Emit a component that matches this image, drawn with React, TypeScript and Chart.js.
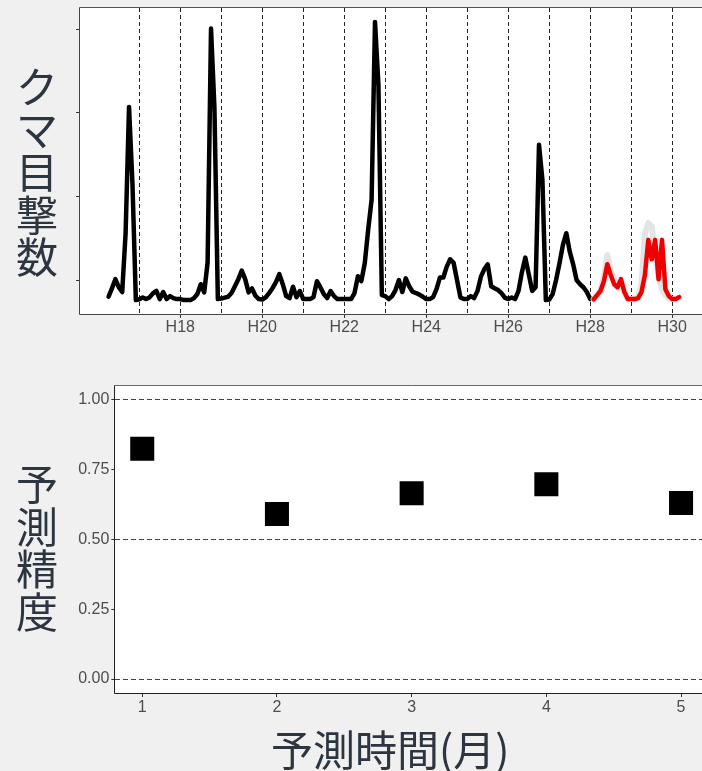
import { useEffect, useRef } from 'react';
import { Chart, registerables } from 'chart.js';

Chart.register(...registerables);

// Monthly bear sightings, starting H16 April (one value per month).
const firstMonth = 16 + 3 / 12;
const observed: number[] = [
  // H16 Apr–Dec
  2, 7, 12.5, 7.7, 4.8, 40, 115.5, 70, 0,
  // H17
  0.5, 1.6, 0.6, 1.6, 4, 5.5, 0.6, 4.8, 0.6, 2.4, 1.2, 0.6,
  // H18
  0.6, 0, 0, 0, 1.2, 3.6, 9.5, 4.6, 22.4, 162.3, 115, 0.6,
  // H19
  0.9, 1.5, 2, 4.2, 8.3, 12.5, 17.6, 12.5, 4.6, 7, 2.6, 0.6,
  // H20
  0.3, 1.6, 4.2, 7.1, 10.7, 15.5, 9.5, 2.4, 1.2, 8, 1.8, 5.4,
  // H21
  0.6, 0.6, 0.6, 1.8, 11.3, 7.7, 3.6, 1.2, 5.4, 2.4, 0.6, 0.6,
  // H22
  0.6, 0.6, 0.6, 4.2, 14.3, 11.3, 22, 42, 60, 166.3, 128.6, 3,
  // H23
  2.4, 0.6, 2.4, 6, 12, 4.8, 13, 8.3, 5, 4.2, 3.3, 2,
  // H24
  0.6, 0.6, 1.8, 6.5, 13.5, 13.5, 20, 24.4, 22.3, 12, 1.6, 0.6,
  // H25
  0.6, 2.4, 1.2, 5.4, 14, 18.5, 21.4, 8.3, 7.1, 6, 4.2, 1.5,
  // H26
  0.6, 1.6, 0.6, 5.5, 16.7, 25.4, 15.5, 5.5, 7.7, 92.9, 72, 0,
  // H27
  0.3, 3.6, 12, 22, 33, 40, 29, 21.4, 12, 9.5, 7.7, 4.8,
  // H28 Jan
  0.6,
];

// Forecast period, H28 Feb – H30 Mar: model output and recorded counts.
const predicted: number[] = [
  0.5, 3, 5.4, 11.3, 21.4, 15, 9.5, 7.7, 12.5, 4.8, 0.6,
  0.6, 0.6, 1.2, 4.8, 15, 36, 24.4, 36, 12.5, 36, 6.5, 2.4,
  0.6, 0.6, 1.8,
];
const recorded: number[] = [
  0.5, 3, 6, 14, 27, 17, 13, 7, 9, 4, 0.6,
  0.6, 0.6, 1.5, 9.5, 40, 46, 44, 27, 14, 6.5, 3, 1.2,
  0.6, 0.6, 1.5,
];

const yearLines = [17, 18, 19, 20, 21, 22, 23, 24, 25, 26, 27, 28, 29, 30];
const labelledYears = [18, 20, 22, 24, 26, 28, 30];
const countTicks = [12, 62, 112, 162];

// Forecast accuracy by lead time.
const leadMonths = [1, 2, 3, 4, 5];
const accuracy = [0.824, 0.591, 0.665, 0.697, 0.63];
const accuracyTicks = [0, 0.25, 0.5, 0.75, 1];
const accuracyGuides = [0, 0.5, 1];

const tickFont = { family: "'Liberation Sans', Arial, sans-serif", size: 16 };
const tickColor = '#4d4d4d';
const titleColor = '#2d3540';
const cjk = "'Noto Sans CJK JP', 'Noto Sans', sans-serif";

const monthX = (i: number) => firstMonth + i / 12;

function expand(lo: number, hi: number) {
  const pad = (hi - lo) * 0.05;
  return { min: lo - pad, max: hi + pad };
}

// White panel behind the data, framed after drawing.
const panelPlugin = {
  id: 'panel',
  beforeDraw(chart: any) {
    const { ctx, chartArea: a } = chart;
    ctx.save();
    ctx.fillStyle = '#ffffff';
    ctx.fillRect(a.left, a.top, a.right - a.left, a.bottom - a.top);
    ctx.restore();
  },
  afterDraw(chart: any, _args: any, opts: any) {
    const { ctx, chartArea: a } = chart;
    const l = Math.round(a.left) - 0.5;
    const t = Math.round(a.top) - 0.5;
    const r = Math.round(a.right) + 0.5;
    const b = Math.round(a.bottom) + 0.5;
    ctx.save();
    ctx.lineWidth = 1;
    ctx.strokeStyle = opts.frame;
    ctx.beginPath();
    ctx.moveTo(l, t);
    ctx.lineTo(r, t);
    ctx.lineTo(r, b);
    ctx.stroke();
    ctx.strokeStyle = opts.axis;
    ctx.beginPath();
    ctx.moveTo(l, t);
    ctx.lineTo(l, b);
    ctx.lineTo(r, b);
    ctx.stroke();
    ctx.restore();
  },
};

function SightingsChart() {
  const ref = useRef<HTMLCanvasElement>(null);
  useEffect(() => {
    const n = observed.length;
    const obs = observed.map((y, i) => ({ x: monthX(i), y }));
    const pred = predicted.map((y, i) => ({ x: monthX(n + i), y }));
    const rec = recorded.map((y, i) => ({ x: monthX(n + i), y }));
    const xr = expand(monthX(0), monthX(n + predicted.length - 1));
    const yr = expand(0, Math.max(...observed, ...predicted, ...recorded));
    const chart = new Chart(ref.current!, {
      type: 'line',
      data: {
        datasets: [
          { data: pred, borderColor: '#ee0000', borderWidth: 4.5 },
          { data: rec, borderColor: '#e4e4e4', borderWidth: 6 },
          { data: obs, borderColor: '#000000', borderWidth: 4.5 },
        ],
      },
      options: {
        responsive: false,
        animation: false,
        layout: { autoPadding: false, padding: { left: 0, top: 8, right: 12.4, bottom: 0 } },
        elements: {
          point: { radius: 0 },
          line: { tension: 0, borderJoinStyle: 'round', borderCapStyle: 'round', fill: false },
        },
        plugins: {
          legend: { display: false },
          tooltip: { enabled: false },
          panel: { frame: '#555555', axis: '#444444' },
        } as any,
        scales: {
          x: {
            type: 'linear',
            min: xr.min,
            max: xr.max,
            afterBuildTicks: (s: any) => {
              s.ticks = yearLines.map((value) => ({ value }));
            },
            afterFit: (s: any) => {
              s.height = 26;
            },
            ticks: {
              autoSkip: false,
              maxRotation: 0,
              padding: 0,
              color: tickColor,
              font: tickFont,
              callback: (v: any) => (labelledYears.includes(v) ? 'H' + v : ''),
            },
            grid: {
              color: '#222222',
              lineWidth: 1,
              drawTicks: true,
              tickLength: 4,
              tickWidth: 1,
              tickColor: (c: any) =>
                c.tick && labelledYears.includes(c.tick.value) ? '#333333' : 'rgba(0,0,0,0)',
            },
            border: { display: false, dash: [4, 3] },
          },
          y: {
            type: 'linear',
            min: yr.min,
            max: yr.max,
            afterBuildTicks: (s: any) => {
              s.ticks = countTicks.map((value) => ({ value }));
            },
            afterFit: (s: any) => {
              s.width = 80;
            },
            ticks: { display: false },
            grid: {
              drawOnChartArea: false,
              drawTicks: true,
              tickLength: 4,
              tickColor: '#333333',
            },
            border: { display: false },
          },
        },
      },
      plugins: [panelPlugin],
    });
    return () => chart.destroy();
  }, []);
  return <canvas ref={ref} width={720} height={340} style={{ display: 'block' }} />;
}

function AccuracyChart() {
  const ref = useRef<HTMLCanvasElement>(null);
  useEffect(() => {
    const xr = expand(leadMonths[0], leadMonths[leadMonths.length - 1]);
    const yr = expand(0, 1);
    const chart = new Chart(ref.current!, {
      type: 'scatter',
      data: {
        datasets: [
          {
            data: leadMonths.map((x, i) => ({ x, y: accuracy[i] })),
            pointStyle: 'rect',
            pointRadius: 17,
            pointBorderWidth: 0,
            backgroundColor: '#000000',
            borderColor: '#000000',
          },
        ],
      },
      options: {
        responsive: false,
        animation: false,
        layout: { autoPadding: false, padding: { left: 0, top: 40.7, right: 12, bottom: 0 } },
        plugins: {
          legend: { display: false },
          tooltip: { enabled: false },
          panel: { frame: '#666666', axis: '#222222' },
        } as any,
        scales: {
          x: {
            type: 'linear',
            min: xr.min,
            max: xr.max,
            afterBuildTicks: (s: any) => {
              s.ticks = leadMonths.map((value) => ({ value }));
            },
            afterFit: (s: any) => {
              s.height = 27;
            },
            ticks: { padding: 1, color: tickColor, font: tickFont, callback: (v: any) => String(v) },
            grid: { drawOnChartArea: false, drawTicks: true, tickLength: 4, tickColor: '#333333' },
            border: { display: false },
          },
          y: {
            type: 'linear',
            min: yr.min,
            max: yr.max,
            afterBuildTicks: (s: any) => {
              s.ticks = accuracyTicks.map((value) => ({ value }));
            },
            afterFit: (s: any) => {
              s.width = 115.3;
            },
            ticks: {
              padding: 2,
              color: tickColor,
              font: tickFont,
              callback: (v: any) => Number(v).toFixed(2),
            },
            grid: {
              color: (c: any) =>
                c.tick && accuracyGuides.includes(c.tick.value) ? '#444444' : 'rgba(0,0,0,0)',
              lineWidth: 1,
              drawTicks: true,
              tickLength: 4,
              tickColor: '#333333',
            },
            border: { display: false, dash: [5, 3] },
          },
        },
      },
      plugins: [panelPlugin],
    });
    return () => chart.destroy();
  }, []);
  return <canvas ref={ref} width={720} height={375} style={{ display: 'block' }} />;
}

const verticalTitle = {
  position: 'absolute' as const,
  left: 0,
  width: 74,
  textAlign: 'center' as const,
  fontFamily: cjk,
  fontSize: 42,
  lineHeight: '42.5px',
  color: titleColor,
};

export default function App() {
  return (
    <div
      style={{
        position: 'fixed',
        left: 0,
        top: 0,
        width: 702,
        height: 771,
        overflow: 'hidden',
        background: '#f0f0f0',
      }}
    >
      <div style={{ position: 'absolute', left: 0, top: 0 }}>
        <SightingsChart />
      </div>
      <div style={{ position: 'absolute', left: 0, top: 345 }}>
        <AccuracyChart />
      </div>
      <div style={{ ...verticalTitle, top: 64 }}>
        {'クマ目撃数'.split('').map((c, i) => (
          <div key={i}>{c}</div>
        ))}
      </div>
      <div style={{ ...verticalTitle, top: 461 }}>
        {'予測精度'.split('').map((c, i) => (
          <div key={i}>{c}</div>
        ))}
      </div>
      <div
        style={{
          position: 'absolute',
          left: 271,
          top: 727,
          whiteSpace: 'nowrap',
          fontFamily: cjk,
          fontSize: 42,
          lineHeight: '42.5px',
          color: titleColor,
        }}
      >
        予測時間(月)
      </div>
    </div>
  );
}
